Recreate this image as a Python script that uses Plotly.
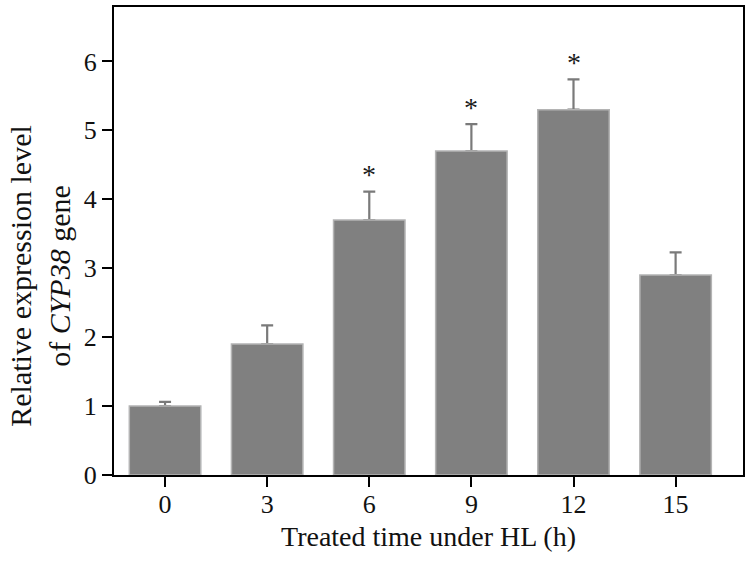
import plotly.graph_objects as go

# data
hours = ['0', '3', '6', '9', '12', '15']
expression = [1.0, 1.9, 3.7, 4.7, 5.3, 2.9]
err_up = [0.06, 0.27, 0.41, 0.39, 0.44, 0.33]
significant = [False, False, True, True, True, False]

FONT = 'Liberation Serif, Times New Roman, serif'

fig = go.Figure()
# invisible bars carrying the error bars, so the visible bars drawn after hide the lower caps
fig.add_trace(go.Bar(
    x=hours, y=expression, width=0.7, marker=dict(color='rgba(0,0,0,0)'),
    error_y=dict(type='data', array=err_up, arrayminus=[0] * len(err_up), symmetric=False,
                 color='#7a7a7a', thickness=2.2, width=6),
    showlegend=False, hoverinfo='skip',
))
fig.add_trace(go.Bar(
    x=hours, y=expression, width=0.7,
    marker=dict(color='#808080', line=dict(color='#b4b4b4', width=1.5)),
    showlegend=False,
))

# significance stars, placed by category index above each error bar
for i, (v, e, s) in enumerate(zip(expression, err_up, significant)):
    if s:
        fig.add_annotation(x=i, y=v + e, text='*', showarrow=False, yanchor='middle',
                           yshift=17, font=dict(family=FONT, size=28, color='#1a1a1a'))

# y title as an annotation: in the reference it sits lower than the axis centre
fig.add_annotation(xref='paper', yref='paper', x=-0.119, y=0.426, xanchor='center',
                   yanchor='middle', textangle=-90, showarrow=False,
                   text='Relative expression level<br>of <i>CYP38</i> gene',
                   font=dict(family=FONT, size=30, color='#111111'))

fig.update_layout(
    width=750, height=561,
    paper_bgcolor='white', plot_bgcolor='white',
    font=dict(family=FONT, size=26, color='#111111'),
    margin=dict(l=114, r=5, t=5, b=86, pad=0),
    barmode='overlay',
)
fig.update_xaxes(type='category', range=[-0.5, 5.66], showgrid=False, ticks='outside',
                 ticklen=10, tickwidth=2, tickcolor='black', showline=True, linecolor='black',
                 linewidth=2, mirror=True, zeroline=False, tickfont=dict(size=26),
                 ticklabelstandoff=-5,
                 title=dict(text='Treated time under HL (h)', font=dict(size=28), standoff=8))
fig.update_yaxes(range=[0, 6.79], tickvals=[0, 1, 2, 3, 4, 5, 6], showgrid=False, ticks='outside',
                 ticklen=10, tickwidth=2, tickcolor='black', showline=True, linecolor='black',
                 linewidth=2, mirror=True, zeroline=False, tickfont=dict(size=26))

fig.write_html("out.html", config={'displayModeBar': False},
               post_script="document.body.style.margin='0';")
